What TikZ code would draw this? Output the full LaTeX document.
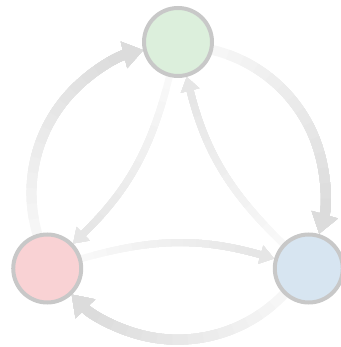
\documentclass[tikz,border=0pt]{standalone}
\usetikzlibrary{arrows.meta,backgrounds}
\definecolor{gfill}{HTML}{DCEFDC}
\definecolor{rfill}{HTML}{F9D2D4}
\definecolor{bfill}{HTML}{D7E5F1}
\definecolor{ring}{HTML}{C8C8C8}
\definecolor{outS}{HTML}{F6F6F6}
\definecolor{outE}{HTML}{DCDCDC}
\definecolor{inS}{HTML}{F8F8F8}
\definecolor{inE}{HTML}{E6E6E6}
\begin{document}
\begin{tikzpicture}[x=1pt,y=1pt,
  state/.style={circle, draw=ring, line width=4pt, minimum size=68pt, inner sep=0pt},
  outerarrow/.style={line width=10pt, -{Triangle[length=20pt,width=26pt]}},
  innerarrow/.style={line width=7pt, -{Triangle[length=14pt,width=18pt]}},
]
\useasboundingbox (0,0) rectangle (340,347);
\node[state, fill=gfill] (g) at (178,305) {};
\node[state, fill=rfill] (r) at (47.23,78.5) {};
\node[state, fill=bfill] (b) at (308.77,78.5) {};
\begin{scope}[on background layer]
\foreach \k in {0,...,13} {
  \pgfmathsetmacro\mix{100*\k/13}
  \pgfmathsetmacro\dd{max(0.01,\k*217/14)}
  \pgfmathsetmacro\di{max(0.01,\k*181/14)}
  % outer arcs
  \draw[outerarrow, color=outE!\mix!outS, dash pattern=on 0pt off \dd pt on 2000pt]
    (r.106.7) arc[start angle=196.2, end angle=103.8, radius=147];
  \draw[outerarrow, color=outE!\mix!outS, dash pattern=on 0pt off \dd pt on 2000pt]
    (g.-13.3) arc[start angle=76.2, end angle=-16.2, radius=147];
  \draw[outerarrow, color=outE!\mix!outS, dash pattern=on 0pt off \dd pt on 2000pt]
    (b.226.7) arc[start angle=316.2, end angle=223.8, radius=147];
  % inner curves
  \draw[innerarrow, color=inE!\mix!inS, dash pattern=on 0pt off \di pt on 2000pt]
    (g) to[bend left=16] (r);
  \draw[innerarrow, color=inE!\mix!inS, dash pattern=on 0pt off \di pt on 2000pt]
    (r) to[bend left=16] (b);
  \draw[innerarrow, color=inE!\mix!inS, dash pattern=on 0pt off \di pt on 2000pt]
    (b) to[bend left=16] (g);
}
\end{scope}
\end{tikzpicture}
\end{document}
